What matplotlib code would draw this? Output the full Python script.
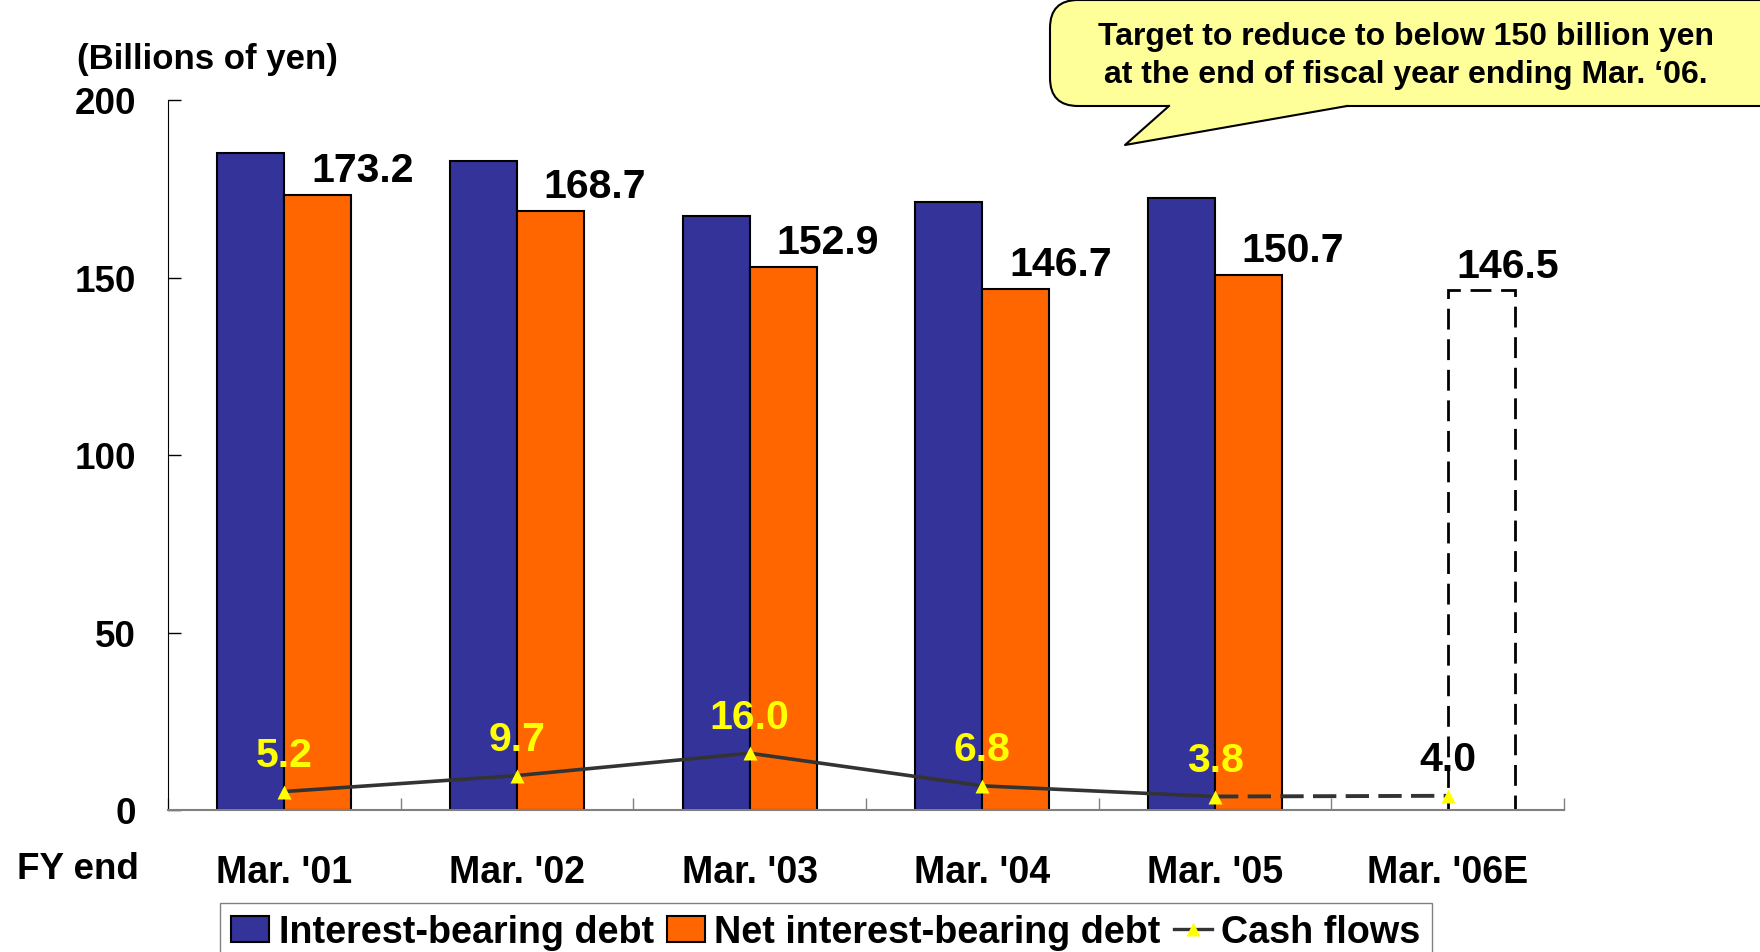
import numpy as np
import matplotlib
matplotlib.use('Agg')
import matplotlib.pyplot as plt
from matplotlib.patches import FancyBboxPatch, Polygon, Patch
from matplotlib.lines import Line2D

# data
categories = ["Mar. '01", "Mar. '02", "Mar. '03", "Mar. '04", "Mar. '05", "Mar. '06E"]
debt = [185.0, 182.7, 167.2, 171.4, 172.5]
net_debt = [173.2, 168.7, 152.9, 146.7, 150.7]
net_debt_target = 146.5
cash_flows = [5.2, 9.7, 16.0, 6.8, 3.8, 4.0]
yticks = [0, 50, 100, 150, 200]
callout = ["Target to reduce to below 150 billion yen",
           "at the end of fiscal year ending Mar. \u201806."]

plt.rcParams['font.family'] = ['Liberation Sans', 'DejaVu Sans']
plt.rcParams['font.weight'] = 'bold'

W, H = 1760, 953
fig = plt.figure(figsize=(W / 100, H / 100), dpi=100)
fig.patch.set_facecolor('white')
ax = fig.add_axes([168 / W, 1 - 811 / H, (1564 - 168) / W, (811 - 101) / H])

x = np.arange(len(categories))
n = len(debt)
bw = 0.288

ax.bar(x[:n] - bw / 2, debt, bw, color='#333399', edgecolor='black', linewidth=1.5, zorder=2)
ax.bar(x[:n] + bw / 2, net_debt, bw, color='#FF6600', edgecolor='black', linewidth=1.5, zorder=2)
ax.bar(x[n] + bw / 2, net_debt_target, bw, fill=False, edgecolor='black', linewidth=2,
       linestyle=(0, (7.5, 3.5)), zorder=2)

# cash flow line, dashed toward the estimate
ax.plot(x[:n], cash_flows[:n], color='#333333', lw=2.6, zorder=3)
ax.plot(x[n - 1:], cash_flows[n - 1:], color='#333333', lw=2.8, ls=(0, (6, 2.4)), zorder=3)
ax.plot(x, cash_flows, ls='none', marker='^', ms=10, mfc='yellow', mec='none', zorder=4)

for i, v in enumerate(net_debt):
    ax.text(x[i] + 0.335, v + 4, f'{v:.1f}', ha='center', va='baseline', fontsize=29.5, zorder=5)
ax.text(x[n] + 0.26, net_debt_target + 3.5, f'{net_debt_target:.1f}', ha='center',
        va='baseline', fontsize=29.5, zorder=5)
for i, v in enumerate(cash_flows):
    ax.text(x[i], v + 7.2, f'{v:.1f}', ha='center', va='baseline', fontsize=29.5,
            color='#FFFF00' if i < n else 'black', zorder=5)

ax.set_xlim(-0.5, 5.5)
ax.set_ylim(0, 200)
ax.set_yticks(yticks)
ax.set_yticklabels([str(t) for t in yticks], fontsize=26.5)
ax.set_xticks(x)
ax.set_xticklabels(categories, fontsize=27)
ax.set_xticks(np.arange(-0.5, 6, 1), minor=True)
ax.tick_params(axis='x', which='major', length=0, pad=32)
ax.tick_params(axis='x', which='minor', direction='in', length=9, color='#808080', width=1)
ax.tick_params(axis='y', direction='in', length=9, width=1, pad=23)
for s in ['top', 'right']:
    ax.spines[s].set_visible(False)
ax.spines['left'].set_linewidth(0.8)
ax.spines['bottom'].set_color('#808080')
ax.spines['bottom'].set_linewidth(1.5)

fig.text(77 / W, 1 - 59 / H, '(Billions of yen)', ha='left', va='center', fontsize=25)
fig.text(17 / W, 1 - 879 / H, 'FY end', ha='left', va='baseline', fontsize=26.5)

handles = [Patch(facecolor='#333399', edgecolor='black', linewidth=1.5),
           Patch(facecolor='#FF6600', edgecolor='black', linewidth=1.5),
           Line2D([], [], color='#333333', lw=2.4, marker='^', ms=10, mfc='yellow', mec='none')]
leg = fig.legend(handles, ['Interest-bearing debt', 'Net interest-bearing debt', 'Cash flows'],
                 loc='upper left', bbox_to_anchor=(220 / W, 1 - 904 / H), ncol=3, fontsize=27.2,
                 frameon=True, fancybox=False, edgecolor='#808080', framealpha=1,
                 borderpad=0.3, handlelength=1.0, handletextpad=0.25, columnspacing=0.35,
                 borderaxespad=0)
leg.get_frame().set_linewidth(1)

# speech bubble overlay, in pixel units
ov = fig.add_axes([0, 0, 1, 1], zorder=5)
ov.set_xlim(0, W)
ov.set_ylim(0, H)
ov.axis('off')
ov.patch.set_alpha(0)
bubble = FancyBboxPatch((1050, H - 107), 800, 106, boxstyle='round,pad=0,rounding_size=28',
                        facecolor='#FFFF99', edgecolor='black', linewidth=1.5, clip_on=False)
ov.add_patch(bubble)
tip = (1125, H - 146)
ov.add_patch(Polygon([(1172, H - 101), (1169, H - 107), tip, (1347, H - 107), (1340, H - 101)],
                     closed=True, facecolor='#FFFF99', edgecolor='none'))
ov.plot([1169, tip[0], 1347], [H - 107, tip[1], H - 107], color='black', lw=1.5)
ov.text(1406, H - 45, callout[0], ha='center', va='baseline', fontsize=23)
ov.text(1406, H - 83, callout[1], ha='center', va='baseline', fontsize=23)

fig.savefig('out.png', dpi=100)
